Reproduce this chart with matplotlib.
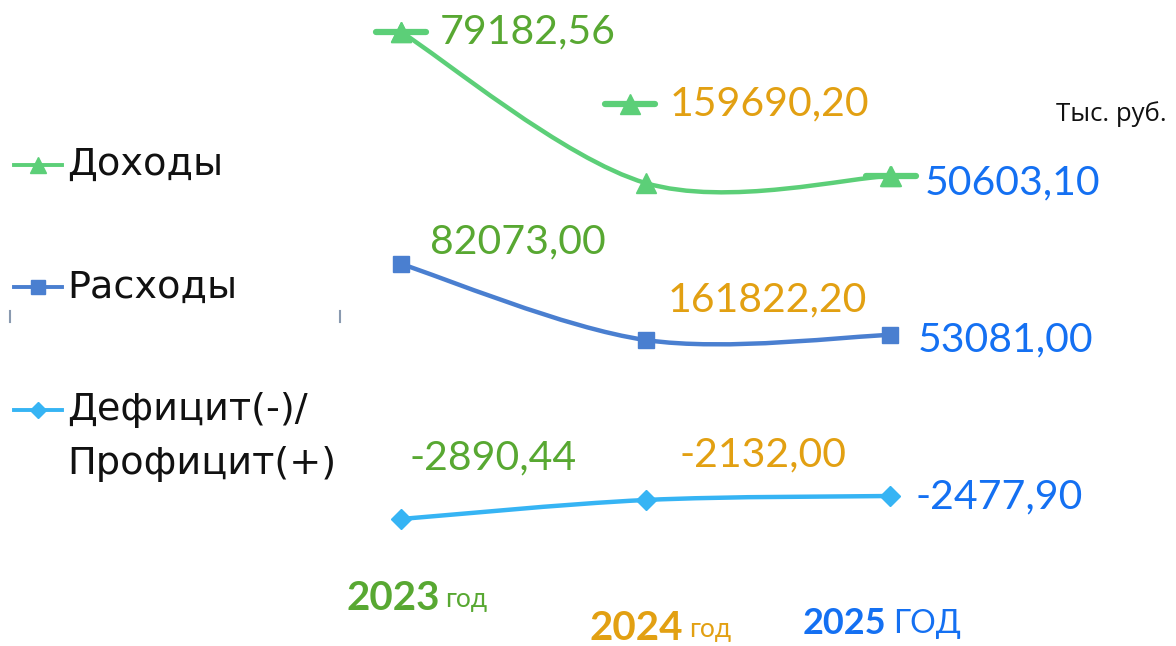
import numpy as np
import matplotlib
matplotlib.use('Agg')
import matplotlib.pyplot as plt
from matplotlib.path import Path
from matplotlib.patches import PathPatch
from matplotlib.lines import Line2D
from matplotlib import transforms

# data
years = ['2023', '2024', '2025']
series_names = ['Доходы', 'Расходы', 'Дефицит(-)/\nПрофицит(+)']
# label values shown on the chart (тыс. руб.)
income_labels = ['79182,56', '159690,20', '50603,10']
expense_labels = ['82073,00', '161822,20', '53081,00']
balance_labels = ['-2890,44', '-2132,00', '-2477,90']
# plotted levels (hidden axis, arbitrary units)
income_levels = [614, 463, 470]
expense_levels = [382, 306, 311]
balance_levels = [127, 146, 150]

line_colors = ['#5ccf78', '#4a7fd0', '#36b4f4']
markers = ['^', 's', 'D']
marker_sizes = [14, 12, 10]
year_colors = ['#58a832', '#e2a012', '#1470f2']

W, H = 1176, 646
fig = plt.figure(figsize=(W / 100, H / 100), dpi=100)
ax = fig.add_axes([0, 0, 1, 1])
px = 244.5  # pixels per category step
ax.set_xlim(-401 / px, (W - 401) / px)
ax.set_ylim(0, H)
ax.axis('off')


def smooth_path(xs, ys, t=1 / 6):
    # Excel-like smoothed line: cubic bezier segments through the points
    xs = np.asarray(xs, float)
    ys = np.asarray(ys, float)
    n = len(xs)
    verts = [(xs[0], ys[0])]
    codes = [Path.MOVETO]
    for i in range(n - 1):
        p0 = np.array([xs[max(i - 1, 0)], ys[max(i - 1, 0)]])
        p1 = np.array([xs[i], ys[i]])
        p2 = np.array([xs[i + 1], ys[i + 1]])
        p3 = np.array([xs[min(i + 2, n - 1)], ys[min(i + 2, n - 1)]])
        c1 = p1 + (p2 - p0) * t
        c2 = p2 - (p3 - p1) * t
        verts += [tuple(c1), tuple(c2), tuple(p2)]
        codes += [Path.CURVE4] * 3
    return Path(verts, codes)


x = np.arange(len(years))
all_levels = [income_levels, expense_levels, balance_levels]
all_labels = [income_labels, expense_labels, balance_labels]

# label offsets in pixels from each point
label_offsets = [
    [(39, 0), (24, 79), (35, -7)],
    [(29, 22), (22, 40), (28, -5)],
    [(9, 61), (34, 45), (25, -1)],
]

for k in range(3):
    c = line_colors[k]
    ax.add_patch(PathPatch(smooth_path(x, all_levels[k]), fill=False,
                           edgecolor=c, lw=3.2, capstyle='round', zorder=2))
    ax.plot(x, all_levels[k], ls='none', marker=markers[k], ms=marker_sizes[k],
            color=c, zorder=3)
    for i in range(3):
        dx, dy = label_offsets[k][i]
        ax.annotate(all_labels[k][i], (x[i], all_levels[k][i]),
                    xytext=(dx, dy), textcoords='offset pixels',
                    ha='left', va='center', fontsize=29.5, family='Lato',
                    color=year_colors[i], zorder=4)

# legend keys inside the income labels
key_offsets = [(0, 0), (-16, 79), (1, 0)]
for i in range(3):
    dx, dy = key_offsets[i]
    tr = transforms.offset_copy(ax.transData, fig=fig, x=dx, y=dy, units='dots')
    half = 25 / px
    ax.plot([x[i] - half, x[i] + half], [income_levels[i]] * 2, color=line_colors[0],
            lw=4.5, solid_capstyle='round', transform=tr, zorder=3)
    ax.plot([x[i]], [income_levels[i]], marker='^', ms=15, color=line_colors[0],
            transform=tr, zorder=3)

# legend on the left
legend_y = [0.745, 0.555, 0.365]
for k in range(3):
    yk = legend_y[k]
    fig.add_artist(Line2D([0.012, 0.053], [yk, yk], color=line_colors[k], lw=2.8,
                          transform=fig.transFigure))
    fig.add_artist(Line2D([0.0325], [yk], marker=markers[k], ms=marker_sizes[k] * 0.8,
                          color=line_colors[k], transform=fig.transFigure))
    fig.text(0.057, yk, series_names[k].split('\n')[0], fontsize=27.5,
             family='DejaVu Sans', color='#111111', va='center', ha='left')
fig.text(0.057, 0.282, series_names[2].split('\n')[1], fontsize=27.5,
         family='DejaVu Sans', color='#111111', va='center', ha='left')

# small stray tick marks
for xm in [10, 340]:
    fig.add_artist(Line2D([xm / W, xm / W], [1 - 311 / H, 1 - 322 / H], color='#8a9ab0',
                          lw=1.5, transform=fig.transFigure))

fig.text(1056 / W, 1 - 114 / H, 'Тыс. руб.', fontsize=18.5, family='Open Sans',
         color='#111111', va='center', ha='left')

# year captions
year_pos = [(346, 598, 'год', 19, 29), (590, 628, 'год', 19, 29), (803, 623, 'ГОД', 23, 26)]
for i in range(3):
    xp, yp, word, fs, yfs = year_pos[i]
    t = fig.text(xp / W, 1 - yp / H, years[i], fontsize=yfs, family='Lato',
                 weight='bold', color=year_colors[i], va='center', ha='left')
    fig.canvas.draw()
    bb = t.get_window_extent()
    fig.text((bb.x1 + 6) / W, 1 - (yp + 1) / H, word, fontsize=fs, family='Lato',
             color=year_colors[i], va='center', ha='left')

fig.savefig('out.png', dpi=100)
